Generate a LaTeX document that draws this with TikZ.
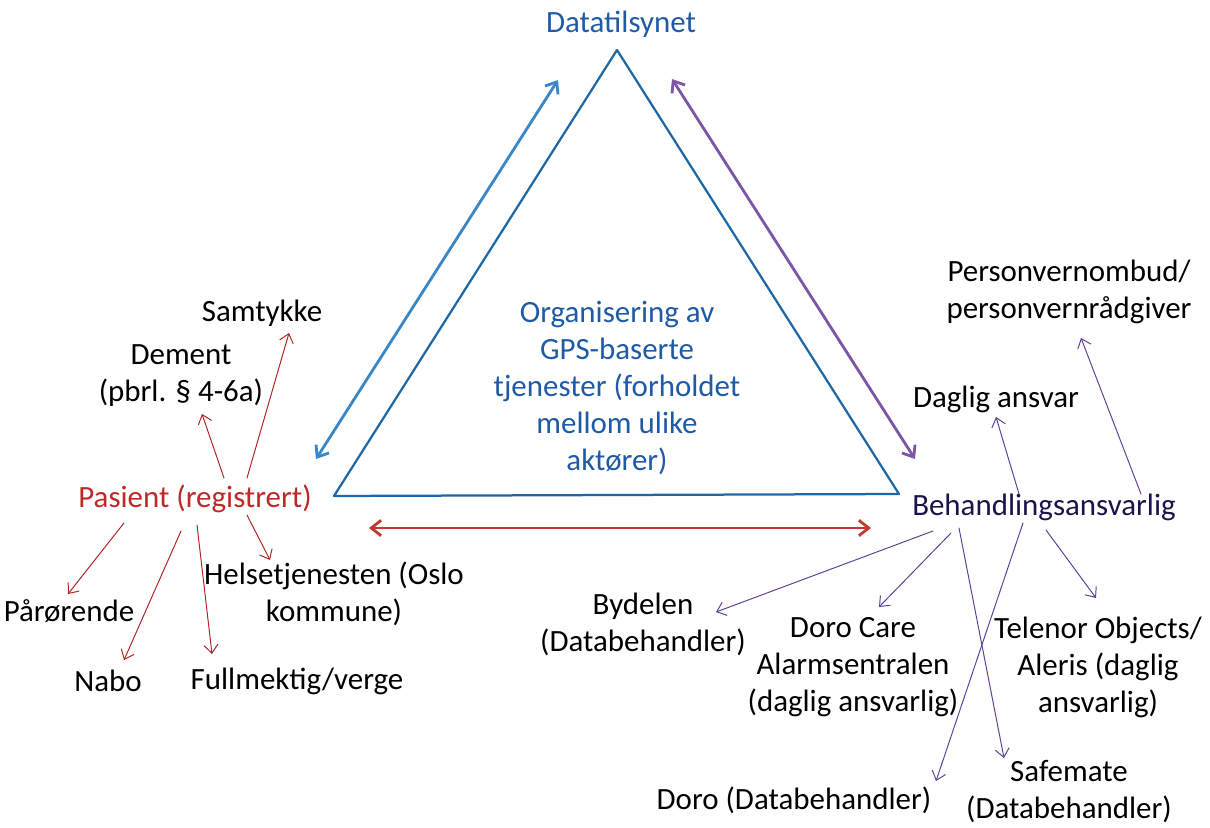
\documentclass[tikz,border=0pt]{standalone}
\usepackage{fontspec}
\setmainfont{Carlito}
\usepackage{tikz}
\usetikzlibrary{calc}
\usetikzlibrary{arrows.meta}
\definecolor{qqbbdd}{rgb}{0.12156862745098039,0.35294117647058826,0.6509803921568628}
\definecolor{qqccdd}{rgb}{0.11764705882352941,0.4117647058823529,0.6470588235294118}
\definecolor{uuddff}{rgb}{0.22745098039215686,0.5294117647058824,0.7843137254901961}
\definecolor{ccuuff}{rgb}{0.49019607843137253,0.3333333333333333,0.6470588235294118}
\definecolor{bbqqdd}{rgb}{0.37254901960784315,0.2549019607843137,0.5882352941176471}
\definecolor{ddqqqq}{rgb}{0.7490196078431373,0.1568627450980392,0.1568627450980392}
\definecolor{ccqqqq}{rgb}{0.6901960784313725,0.1411764705882353,0.1411764705882353}
\definecolor{ddttqq}{rgb}{0.7450980392156863,0.22745098039215686,0.18823529411764706}
\definecolor{qqqqbb}{rgb}{0.09803921568627451,0.0784313725490196,0.2901960784313726}
\tikzset{every node/.style={font=\fontsize{22}{26.3}\selectfont,inner sep=0pt,align=center},
  thickarr/.style={{Straight Barb[length=7pt,width=11pt]}-{Straight Barb[length=7pt,width=11pt]},line width=2pt},
  thinarr/.style={-{Straight Barb[length=6pt,width=10pt]},line width=0.7pt}}

\begin{document}
\begin{tikzpicture}[line cap=round,line join=round,x=0.025cm,y=-0.025cm]
            \useasboundingbox (0,0) rectangle (1210,828);
            \draw [line width=1.6pt,color=qqccdd] (617,50) -- (334,496) -- (899,494) -- cycle;
            % top and centre
            \node[color=qqbbdd] (dat) at (621,24) {Datatilsynet};
            \node[color=qqbbdd] (org) at (617,388) {Organisering av\\GPS-baserte\\tjenester (forholdet\\mellom ulike\\aktører)};
            % patient side
            \node[color=ddqqqq] (pas) at (195,499) {Pasient (registrert)};
            \node (samt) at (262,313) {Samtykke};
            \node (dem) at (181,376) {Dement\\(pbrl. § 4-6a)};
            \node (paar) at (69,611) {Pårørende};
            \node (nabo) at (108,681) {Nabo};
            \node (full) at (297,681) {Fullmektig/verge};
            \node (helse) at (334,594) {Helsetjenesten (Oslo\\kommune)};
            % controller side
            \node[color=qqqqbb] (beh) at (1044,507) {Behandlingsansvarlig};
            \node (dag) at (996,399) {Daglig ansvar};
            \node (pvo) at (1069,292) {Personvernombud/\\personvernrådgiver};
            \node (byd) at (643,624) {Bydelen\\(Databehandler)};
            \node (dcare) at (853,667) {Doro Care\\Alarmsentralen\\(daglig ansvarlig)};
            \node (tel) at (1098,667) {Telenor Objects/\\Aleris (daglig\\ansvarlig)};
            \node (doro) at (794,800) {Doro (Databehandler)};
            \node (safe) at (1069,792) {Safemate\\(Databehandler)};
            % double arrows along the triangle
            \draw [thickarr,color=uuddff] ($(dat)+(-63,56)$) -- ($(pas)+(121,-40)$);
            \draw [thickarr,color=ccuuff] ($(dat)+(51,55)$) -- ($(beh)+(-129,-48)$);
            \draw [thickarr,color=ddttqq] ($(pas)+(174,29)$) -- ($(beh)+(-173,21)$);
            % from the patient
            \draw [thinarr,color=ccqqqq] ($(pas)+(52,-21)$) -- ($(samt)+(27,20)$);
            \draw [thinarr,color=ccqqqq] ($(pas)+(29,-21)$) -- ($(dem)+(21,38)$);
            \draw [thinarr,color=ccqqqq] ($(pas)+(-71,24)$) -- ($(paar)+(-1,-17)$);
            \draw [thinarr,color=ccqqqq] ($(pas)+(-14,32)$) -- ($(nabo)+(16,-21)$);
            \draw [thinarr,color=ccqqqq] ($(pas)+(2,26)$) -- ($(full)+(-85,-27)$);
            \draw [thinarr,color=ccqqqq] ($(pas)+(52,16)$) -- ($(helse)+(-64,-34)$);
            % from the controller
            \draw [thinarr,color=bbqqdd] ($(beh)+(-25,-13)$) -- ($(dag)+(0,18)$);
            \draw [thinarr,color=bbqqdd] ($(beh)+(97,-13)$) -- ($(pvo)+(12,46)$);
            \draw [thinarr,color=bbqqdd] ($(beh)+(-111,24)$) -- ($(byd)+(73,-12)$);
            \draw [thinarr,color=bbqqdd] ($(beh)+(-93,26)$) -- ($(dcare)+(26,-60)$);
            \draw [thinarr,color=bbqqdd] ($(beh)+(-85,21)$) -- ($(safe)+(-65,-34)$);
            \draw [thinarr,color=bbqqdd] ($(beh)+(-21,16)$) -- ($(doro)+(142,-19)$);
            \draw [thinarr,color=bbqqdd] ($(beh)+(2,23)$) -- ($(tel)+(-2,-69)$);
        \end{tikzpicture}
\end{document}
